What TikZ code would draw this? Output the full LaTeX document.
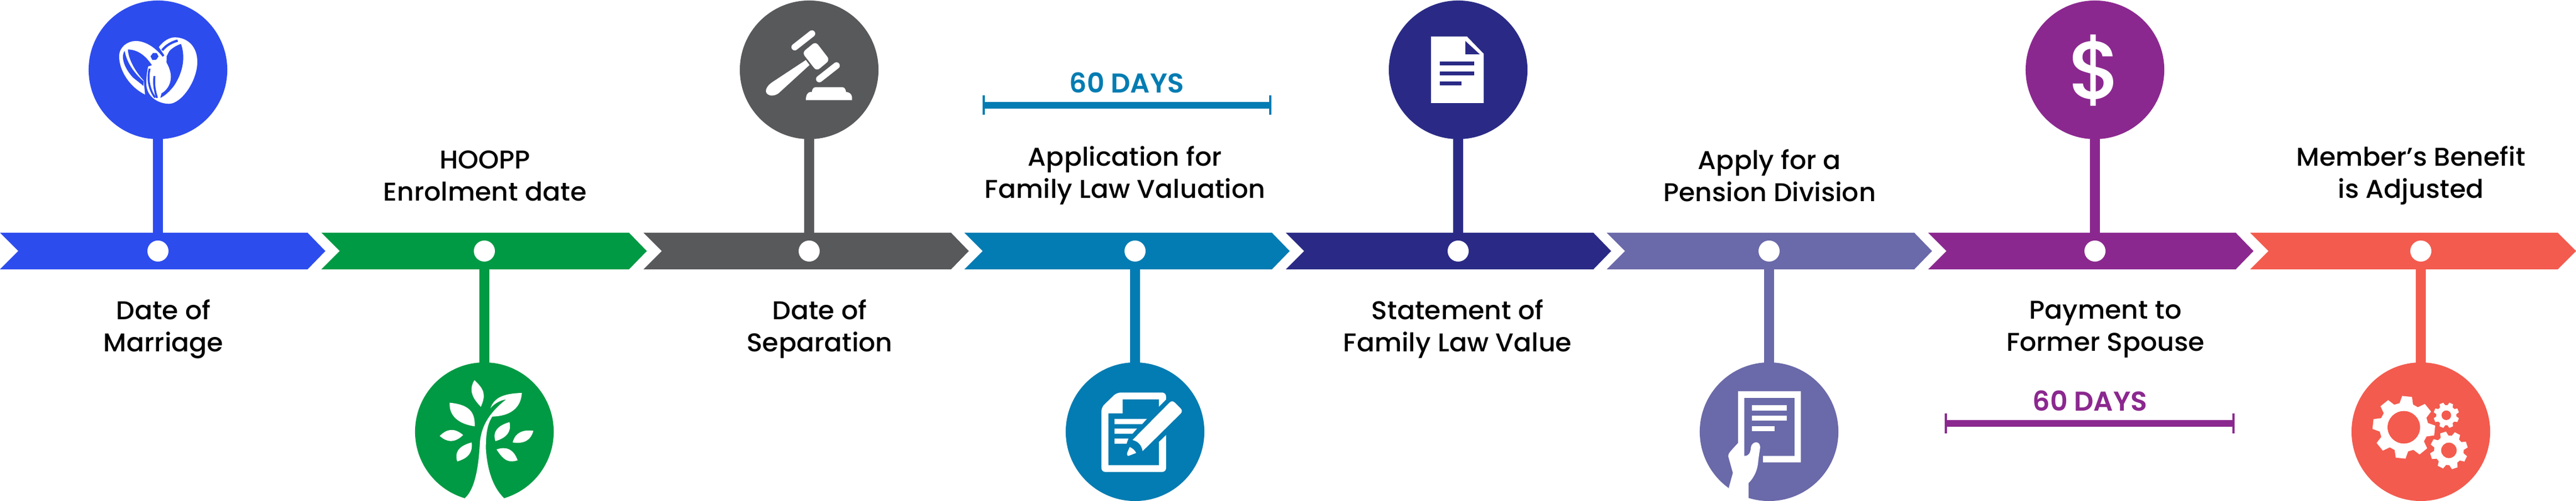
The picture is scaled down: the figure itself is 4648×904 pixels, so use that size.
\documentclass[tikz,border=0pt]{standalone}
\usepackage{fontspec}
\setmainfont{Poppins Medium}[FakeStretch=1.02,BoldFont={Poppins SemiBold},BoldFeatures={FakeStretch=1.0}]
\usepackage{color}
\definecolor{ring-blue}{HTML}{2D4CEE}
\definecolor{tree-green}{HTML}{009A44}
\definecolor{gavel-gray}{HTML}{58595B}
\definecolor{form-teal}{HTML}{027CB2}
\definecolor{sheet-navy}{HTML}{2A2A86}
\definecolor{hand-violet}{HTML}{6A69A9}
\definecolor{coin-purple}{HTML}{8B288F}
\definecolor{gear-coral}{HTML}{F35B4E}

\tikzset{
	disc/.style={circle,minimum size=2.5cm,inner sep=0pt,outer sep=0pt,fill=#1},
	hub/.style={circle,minimum size=.38cm,inner sep=0pt,outer sep=0pt,fill=white},
	stem/.style={line width=5.1pt,#1},
	caption/.style={align=center,inner sep=0pt,text=black,font=\fontsize{13.2}{16.5}\selectfont},
	spantext/.style={inner sep=0pt,text=#1,font=\fontsize{14}{15}\bfseries\selectfont},
	spanbar/.style={line width=3.4pt,#1},
	spantick/.style={line width=1.2pt,#1}
}
\newcommand{\gearteeth}{(-16:.78) -- (-9:1) -- (9:1) -- (16:.78) -- (29:.78) -- (36:1) -- (54:1) -- (61:.78) -- (74:.78) -- (81:1) -- (99:1) -- (106:.78) -- (119:.78) -- (126:1) -- (144:1) -- (151:.78) -- (164:.78) -- (171:1) -- (189:1) -- (196:.78) -- (209:.78) -- (216:1) -- (234:1) -- (241:.78) -- (254:.78) -- (261:1) -- (279:1) -- (286:.78) -- (299:.78) -- (306:1) -- (324:1) -- (331:.78) -- cycle}

\begin{document}
\begin{tikzpicture}[x=.01cm,y=-.01cm]
	\useasboundingbox (0,0) rectangle (4648,904);

	% the arrow band
	\fill[ring-blue] (0,420) -- (555,420) -- (587,453) -- (555,486) -- (0,486) -- (33,453) -- cycle;
	\fill[tree-green] (580,420) -- (1135,420) -- (1167,453) -- (1135,486) -- (580,486) -- (613,453) -- cycle;
	\fill[gavel-gray] (1161,420) -- (1716,420) -- (1748,453) -- (1716,486) -- (1161,486) -- (1194,453) -- cycle;
	\fill[form-teal] (1740,420) -- (2295,420) -- (2327,453) -- (2295,486) -- (1740,486) -- (1773,453) -- cycle;
	\fill[sheet-navy] (2320,420) -- (2875,420) -- (2907,453) -- (2875,486) -- (2320,486) -- (2353,453) -- cycle;
	\fill[hand-violet] (2899,420) -- (3454,420) -- (3486,453) -- (3454,486) -- (2899,486) -- (2932,453) -- cycle;
	\fill[coin-purple] (3479,420) -- (4034,420) -- (4066,453) -- (4034,486) -- (3479,486) -- (3512,453) -- cycle;
	\fill[gear-coral] (4060,420) -- (4615,420) -- (4648,453) -- (4615,486) -- (4060,486) -- (4093,453) -- cycle;

	% discs and hubs
	\node[disc=ring-blue] (disc1) at (285,126) {};
	\node[disc=tree-green] (disc2) at (874,779) {};
	\node[disc=gavel-gray] (disc3) at (1460,126) {};
	\node[disc=form-teal] (disc4) at (2048,779) {};
	\node[disc=sheet-navy] (disc5) at (2631,126) {};
	\node[disc=hand-violet] (disc6) at (3192,779) {};
	\node[disc=coin-purple] (disc7) at (3780,126) {};
	\node[disc=gear-coral] (disc8) at (4368,779) {};

	\node[hub] (hub1) at (285,453) {};
	\node[hub] (hub2) at (874,453) {};
	\node[hub] (hub3) at (1460,453) {};
	\node[hub] (hub4) at (2048,453) {};
	\node[hub] (hub5) at (2631,453) {};
	\node[hub] (hub6) at (3192,453) {};
	\node[hub] (hub7) at (3780,453) {};
	\node[hub] (hub8) at (4368,453) {};

	\draw[stem=ring-blue] (disc1) -- (hub1);
	\draw[stem=tree-green] (disc2) -- (hub2);
	\draw[stem=gavel-gray] (disc3) -- (hub3);
	\draw[stem=form-teal] (disc4) -- (hub4);
	\draw[stem=sheet-navy] (disc5) -- (hub5);
	\draw[stem=hand-violet] (disc6) -- (hub6);
	\draw[stem=coin-purple] (disc7) -- (hub7);
	\draw[stem=gear-coral] (disc8) -- (hub8);

	% captions
	\node[caption] (cap1) at (295,594) {Date of\\Marriage};
	\node[caption] (cap2) at (875,317) {HOOPP\\Enrolment date};
	\node[caption] (cap3) at (1479,594) {Date of\\Separation};
	\node[caption] (cap4) at (2030,317) {Application for\\Family Law Valuation};
	\node[caption] (cap5) at (2630,594) {Statement of\\Family Law Value};
	\node[caption] (cap6) at (3193,317) {Apply for a\\Pension Division};
	\node[caption] (cap7) at (3799,594) {Payment to\\Former Spouse};
	\node[caption] (cap8) at (4350,317) {Member’s Benefit\\is Adjusted};

	% the two spans of days
	\node[spantext=form-teal] (days1) at (2033,149) {60 DAYS};
	\coordinate (from1) at (1775,190);
	\coordinate (to1) at (2292,190);
	\draw[spanbar=form-teal] (from1) -- (to1);
	\draw[spantick=form-teal] ([yshift=.175cm]from1) -- ([yshift=-.175cm]from1);
	\draw[spantick=form-teal] ([yshift=.175cm]to1) -- ([yshift=-.175cm]to1);

	\node[spantext=coin-purple] (days2) at (3771,723) {60 DAYS};
	\coordinate (from2) at (3511,764);
	\coordinate (to2) at (4030,764);
	\draw[spanbar=coin-purple] (from2) -- (to2);
	\draw[spantick=coin-purple] ([yshift=.175cm]from2) -- ([yshift=-.175cm]from2);
	\draw[spantick=coin-purple] ([yshift=.175cm]to2) -- ([yshift=-.175cm]to2);

	% rings
	\begin{scope}[shift={(190,50)},scale=.3333]
		\fill[white] (290,105) .. controls (315,70) and (350,52) .. (378,52) .. controls (450,55) and (498,105) .. (498,185) .. controls (498,290) and (410,412) .. (345,412) .. controls (295,412) and (222,380) .. (222,300) .. controls (222,260) and (228,230) .. (232,210) -- (262,200) -- (320,150) -- cycle;
		\fill[ring-blue] (332,155) -- (345,130) .. controls (355,115) and (385,95) .. (410,88) .. controls (435,160) and (420,240) .. (375,310) .. controls (350,345) and (320,370) .. (298,380) -- (330,260) -- cycle;
		\draw[ring-blue,line width=1.2pt] (308,122) .. controls (330,95) and (360,78) .. (392,70);
		\fill[white] (75,155) .. controls (75,105) and (120,72) .. (165,72) .. controls (260,72) and (355,190) .. (355,265) .. controls (355,310) and (330,340) .. (305,355) .. controls (300,280) and (240,118) .. (122,118) .. controls (125,170) and (160,235) .. (208,287) -- (215,362) .. controls (130,320) and (75,230) .. (75,155) -- cycle;
		\fill[ring-blue] (105,125) .. controls (85,150) and (95,210) .. (150,270) -- (207,315) -- (207,290) .. controls (160,250) and (115,190) .. (105,125) -- cycle;
		\fill[ring-blue] (258,137) -- (278,137) -- (288,155) -- (276,173) -- (255,175) -- (245,155) -- cycle;
		\draw[ring-blue,line width=1pt] (240,222) .. controls (225,280) and (240,340) .. (270,378);
		\draw[ring-blue,line width=1pt] (266,262) .. controls (260,310) and (270,350) .. (280,380);
	\end{scope}

	% tree
	\begin{scope}[shift={(770,670)},scale=.3333]
		\fill[white] (207,686) .. controls (260,640) and (280,520) .. (287,400) .. controls (290,310) and (330,230) .. (430,152) .. controls (395,158) and (365,175) .. (345,200) .. controls (365,140) and (420,120) .. (515,117) .. controls (510,200) and (450,243) .. (355,245) .. controls (325,290) and (320,350) .. (320,420) .. controls (330,560) and (370,640) .. (418,686) -- (418,702) -- (207,702) -- cycle;
		\fill[white] (258,48) .. controls (235,85) and (230,130) .. (293,192) .. controls (320,130) and (315,100) .. (258,48) -- cycle;
		\fill[white] (124,170) .. controls (120,240) and (170,285) .. (260,298) .. controls (262,220) and (230,180) .. (124,170) -- cycle;
		\fill[white] (70,350) .. controls (110,385) and (150,390) .. (197,345) .. controls (150,305) and (110,310) .. (70,350) -- cycle;
		\fill[white] (165,488) .. controls (225,470) and (250,440) .. (243,385) .. controls (170,405) and (150,440) .. (165,488) -- cycle;
		\fill[white] (372,378) .. controls (430,360) and (460,330) .. (448,275) .. controls (380,295) and (355,330) .. (372,378) -- cycle;
		\fill[white] (465,385) .. controls (530,395) and (565,370) .. (577,322) .. controls (520,315) and (480,330) .. (465,385) -- cycle;
		\fill[white] (378,423) .. controls (420,490) and (450,495) .. (492,482) .. controls (470,420) and (430,405) .. (378,423) -- cycle;
	\end{scope}

	% gavel
	\begin{scope}[shift={(1360,40)},scale=.3333]
		\draw[white,line width=3.4pt,line cap=round] (222,135) -- (315,62);
		\draw[white,line width=3.4pt,line cap=round] (355,308) -- (448,235);
		\fill[white,rounded corners=2pt] (335,105) -- (412,205) -- (340,265) -- (262,165) -- cycle;
		\fill[white] (282,205) -- (100,325) .. controls (70,345) and (55,375) .. (75,390) .. controls (95,405) and (125,395) .. (140,380) -- (302,232) -- cycle;
		\fill[white] (282,422) -- (532,422) -- (532,405) .. controls (530,388) and (515,378) .. (500,378) .. controls (498,362) and (490,352) .. (480,352) -- (335,352) .. controls (322,352) and (315,365) .. (315,378) -- (305,378) .. controls (292,380) and (282,395) .. (282,422) -- cycle;
	\end{scope}

	% form and pencil
	\begin{scope}[shift={(1960,690)},scale=.3333]
		\fill[white,rounded corners=2pt] (82,135) -- (165,55) -- (432,55) -- (432,485) -- (82,485) -- cycle;
		\fill[form-teal] (120,168) -- (197,168) -- (197,92) -- (393,92) -- (393,448) -- (120,448) -- cycle;
		\fill[form-teal] (393,132) -- (445,80) -- (445,272) -- (393,322) -- cycle;
		\fill[white] (153,198) -- (328,198) -- (302,226) -- (153,226) -- cycle;
		\fill[white] (153,250) -- (275,250) -- (250,278) -- (153,278) -- cycle;
		\fill[white] (153,304) -- (228,304) -- (218,332) -- (153,332) -- cycle;
		\fill[white] (250,312) -- (450,110) .. controls (460,100) and (470,100) .. (480,110) -- (510,140) .. controls (520,150) and (520,160) .. (510,170) -- (305,372) .. controls (300,340) and (280,318) .. (250,312) -- cycle;
		\fill[white] (235,350) .. controls (250,355) and (265,370) .. (270,382) -- (228,398) .. controls (220,398) and (220,385) .. (222,380) -- cycle;
	\end{scope}

	% sheet
	\fill[white] (2582,66) -- (2647,66) -- (2677,97) -- (2677,186) -- (2582,186) -- cycle;
	\fill[sheet-navy] (2644,74) -- (2644,98) -- (2670,98) -- cycle;
	\fill[sheet-navy] (2598,111) rectangle (2660,118);
	\fill[sheet-navy] (2598,129) rectangle (2660,136);
	\fill[sheet-navy] (2598,147) rectangle (2637,154);

	% hand with sheet
	\begin{scope}[shift={(3100,690)},scale=.3333]
		\fill[white] (108,48) -- (448,48) -- (448,433) -- (243,433) -- (243,398) -- (414,398) -- (414,84) -- (142,84) -- (142,398) .. controls (165,398) and (175,385) .. (178,350) .. controls (182,322) and (225,310) .. (228,350) -- (218,420) .. controls (215,480) and (190,520) .. (165,545) -- (165,640) -- (90,640) -- (58,570) -- (80,490) -- (55,400) .. controls (55,385) and (60,380) .. (108,328) -- cycle;
		\fill[white] (184,123) rectangle (373,152);
		\fill[white] (184,179) rectangle (373,208);
		\fill[white] (184,236) rectangle (307,265);
	\end{scope}

	% dollar
	\node[inner sep=0pt,text=white,font=\fontsize{42}{42}\selectfont] (coin) at (3780,127) {\$};

	% gears
	\begin{scope}[shift={(4260,700)},scale=.3333]
		\fill[white,shift={(232,213)},rotate=39,scale=170] \gearteeth;
		\fill[gear-coral] (232,213) circle (88);
		\fill[white,shift={(476,338)},rotate=18,scale=103] \gearteeth;
		\fill[gear-coral] (476,338) circle (42);
		\fill[white,shift={(462,148)},rotate=22.5,scale=70] \gearteeth;
		\fill[gear-coral] (462,148) circle (26);
	\end{scope}
\end{tikzpicture}
\end{document}
